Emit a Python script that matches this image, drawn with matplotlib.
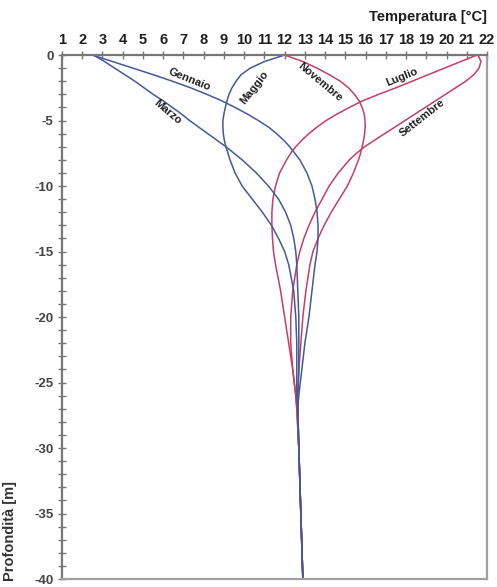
import numpy as np
import matplotlib.pyplot as plt
from matplotlib.ticker import MultipleLocator

plt.rcParams['font.family'] = ['Liberation Sans', 'DejaVu Sans']
plt.rcParams['axes.unicode_minus'] = False

# depth levels [m] shared by all months
depth = [0, -0.5, -1, -1.5, -2, -2.5, -3, -3.5, -4, -4.5, -5, -5.5, -6, -6.5, -7, -7.5, -8,
         -9, -10, -11, -12, -13, -14, -15, -16, -18, -20, -22, -24, -26, -27, -30, -35, -40]

# temperature profiles [degC]
gennaio = [2.5, 3.5, 4.5, 5.5, 6.45, 7.35, 8.15, 8.9, 9.55, 10.15, 10.7, 11.2, 11.6, 11.95, 12.25, 12.5, 12.75,
           13.1, 13.35, 13.5, 13.6, 13.65, 13.65, 13.6, 13.5, 13.35, 13.2, 13.0, 12.85, 12.7, 12.65, 12.7, 12.8, 12.9]
marzo = [2.55, 3.1, 3.6, 4.1, 4.6, 5.05, 5.5, 6.0, 6.45, 6.9, 7.3, 7.75, 8.2, 8.65, 9.1, 9.5, 9.9,
         10.6, 11.2, 11.7, 12.05, 12.3, 12.45, 12.55, 12.6, 12.65, 12.7, 12.7, 12.7, 12.65, 12.65, 12.7, 12.8, 12.9]
maggio = [12.0, 11.0, 10.3, 9.85, 9.6, 9.4, 9.25, 9.15, 9.07, 9.0, 8.95, 8.95, 8.97, 9.02, 9.1, 9.2, 9.3,
          9.55, 9.9, 10.4, 10.9, 11.35, 11.7, 12.0, 12.2, 12.45, 12.55, 12.6, 12.6, 12.6, 12.65, 12.7, 12.8, 12.9]
luglio = [21.5, 20.7, 19.9, 19.1, 18.3, 17.5, 16.65, 15.85, 15.2, 14.6, 14.05, 13.6, 13.2, 12.85, 12.55, 12.3, 12.1,
          11.75, 11.55, 11.42, 11.37, 11.37, 11.4, 11.45, 11.55, 11.8, 12.0, 12.2, 12.4, 12.55, 12.6, 12.7, 12.8, 12.9]
settembre = [21.55, 21.7, 21.6, 21.35, 20.95, 20.45, 19.95, 19.45, 18.95, 18.45, 17.95, 17.45, 16.95, 16.45, 15.95, 15.55, 15.2,
             14.65, 14.2, 13.85, 13.5, 13.2, 12.95, 12.75, 12.6, 12.4, 12.3, 12.3, 12.4, 12.55, 12.6, 12.7, 12.8, 12.9]
novembre = [12.0, 12.9, 13.6, 14.2, 14.75, 15.15, 15.45, 15.68, 15.83, 15.93, 15.97, 15.98, 15.95, 15.9, 15.83, 15.75, 15.65,
            15.4, 15.1, 14.7, 14.3, 13.95, 13.65, 13.4, 13.25, 13.05, 12.9, 12.8, 12.7, 12.65, 12.65, 12.7, 12.8, 12.9]

blue = '#44589a'
red = '#c63e66'

fig = plt.figure(figsize=(4.97, 5.87), dpi=100)
ax = fig.add_axes([0.1247, 0.0136, 0.8553, 0.8927])

for t in [luglio, settembre, novembre]:
    ax.plot(t, depth, color=red, lw=1.1, solid_joinstyle='round')
for t in [gennaio, marzo, maggio]:
    ax.plot(t, depth, color=blue, lw=1.1, solid_joinstyle='round')

# month labels along the curves
lab = dict(fontsize=8, fontweight='bold', color='#1e1e1e', ha='center', va='center')
ax.text(7.3, -1.85, 'Gennaio', rotation=-22, **lab)
ax.text(6.2, -4.35, 'Marzo', rotation=-40, **lab)
ax.text(10.5, -2.5, 'Maggio', rotation=52, **lab)
ax.text(13.75, -2.05, 'Novembre', rotation=-40, **lab)
ax.text(17.8, -1.7, 'Luglio', rotation=22, **lab)
ax.text(18.8, -4.8, 'Settembre', rotation=38, **lab)

ax.set_xlim(1, 22)
ax.set_ylim(-40, 0)
ax.xaxis.set_major_locator(MultipleLocator(1))
ax.yaxis.set_major_locator(MultipleLocator(5))
ax.yaxis.set_minor_locator(MultipleLocator(1))
ax.xaxis.tick_top()
ax.tick_params(axis='x', which='major', direction='inout', length=6, width=1,
               color='#777777', pad=3, labelsize=10.5, labelcolor='#1e1e1e')
ax.tick_params(axis='y', which='both', direction='inout', length=6, width=1,
               color='#777777', pad=3, labelsize=9.5, labelcolor='#444444')
for lbl in ax.get_xticklabels() + ax.get_yticklabels():
    lbl.set_fontweight('bold')

for s in ['top', 'left']:
    ax.spines[s].set_color('#777777')
    ax.spines[s].set_linewidth(1.6)
for s in ['right', 'bottom']:
    ax.spines[s].set_color('#a0a0a0')
    ax.spines[s].set_linewidth(1.6)

fig.text(0.98, 0.971, 'Temperatura [°C]', ha='right', va='center',
         fontsize=10.5, fontweight='bold', color='#1e1e1e')
fig.text(0.021, 0.011, 'Profondità [m]', ha='center', va='bottom', rotation=90,
         fontsize=10.5, fontweight='bold', color='#333333')

fig.savefig('out.png', dpi=100)
